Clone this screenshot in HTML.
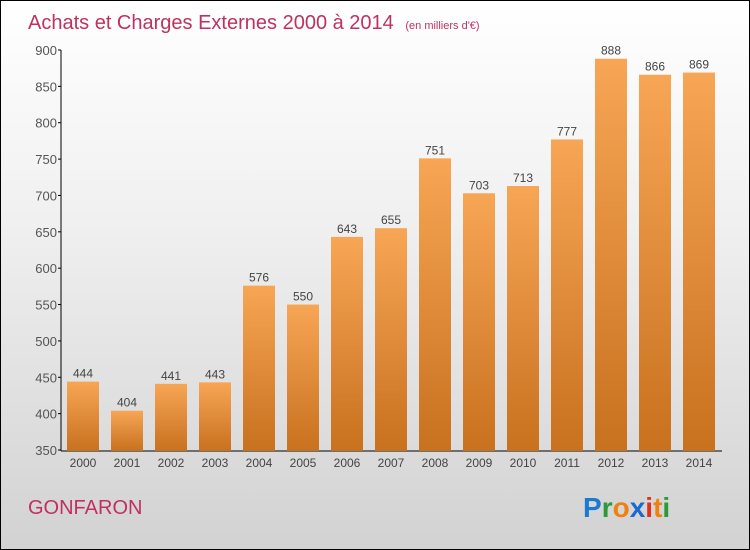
<!DOCTYPE html>
<html><head><meta charset="utf-8"><style>
body{margin:0}
#c{width:748px;height:548px;border:1px solid #000;position:relative;overflow:hidden;background:linear-gradient(#ffffff,#f0f0f0 40%,#d2d2d2);font-family:"Liberation Sans",sans-serif}
</style></head><body>
<div id="c">
<svg id="s" width="748" height="548">
<defs><linearGradient id="g" x1="0" y1="0" x2="0" y2="1"><stop offset="0" stop-color="#f7a655"/><stop offset="1" stop-color="#c8711f"/></linearGradient></defs>
<text x="27" y="28" font-size="20" fill="#c0315f">Achats et Charges Externes 2000 à 2014 <tspan font-size="11" dx="6">(en milliers d'€)</tspan></text>
<text x="27" y="513" font-size="20" fill="#c0315f">GONFARON</text>
<text x="582" y="516" font-size="28" font-weight="bold"><tspan fill="#1a7ad0">P</tspan><tspan fill="#2a9a3a">r</tspan><tspan fill="#f08010">o</tspan><tspan fill="#1a6ad0">x</tspan><tspan fill="#e03020">i</tspan><tspan fill="#f08010">t</tspan><tspan fill="#2a9a3a">i</tspan></text>
<g id="plot"></g>
</svg>
</div>
<script>
const categories=["2000","2001","2002","2003","2004","2005","2006","2007","2008","2009","2010","2011","2012","2013","2014"];
const values=[444,404,441,443,576,550,643,655,751,703,713,777,888,866,869];
const yTicks=[350,400,450,500,550,600,650,700,750,800,850,900];
const NS="http://www.w3.org/2000/svg";
const g=document.getElementById('plot');
const y=v=>449-(v-350)*(400/550);
const x=i=>82+i*44;
function mk(t,a){const e=document.createElementNS(NS,t);for(const k in a)e.setAttribute(k,a[k]);g.appendChild(e);return e;}
const ya=mk('line',{x1:60,y1:49,x2:60,y2:450,stroke:'#000'});


const xa=mk('line',{x1:60,y1:450,x2:721,y2:450,stroke:'#000'});


yTicks.forEach(v=>{
 const tk=mk('line',{x1:57,x2:60,y1:y(v),y2:y(v),stroke:'#000'});
 
 
 const t=mk('text',{x:56,y:y(v)+5,'text-anchor':'end','font-size':13,fill:'#555'});
 t.textContent=v;
 
 
});
values.forEach((v,i)=>{
 const r=mk('rect',{x:x(i)-16,y:y(v),width:32,height:450-y(v),fill:'url(#g)'});
 
 
 const l=mk('text',{x:x(i),y:y(v)-4,'text-anchor':'middle','font-size':12,fill:'#444'});
 l.textContent=v;
 
 
 const c=mk('text',{x:x(i),y:466,'text-anchor':'middle','font-size':12,fill:'#444'});
 c.textContent=categories[i];
 
 
});
</script>
</body></html>
